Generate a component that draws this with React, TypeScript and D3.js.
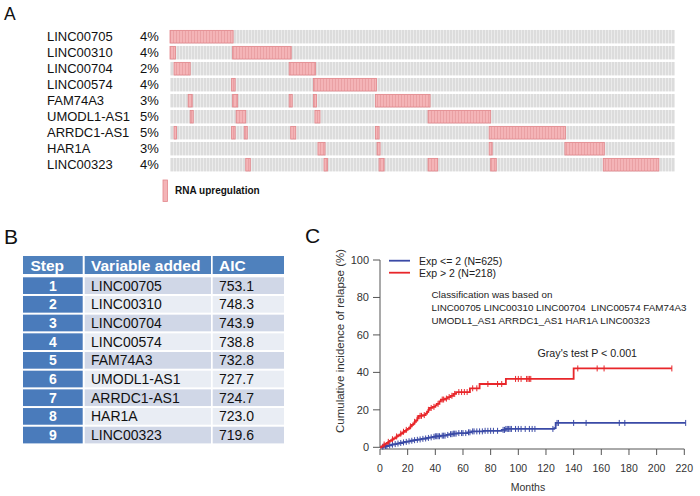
import React from "react";
import * as d3 from "d3";

// ---------- Panel A data ----------
const genes = ["LINC00705", "LINC00310", "LINC00704", "LINC00574", "FAM74A3", "UMODL1-AS1", "ARRDC1-AS1", "HAR1A", "LINC00323"];
const genePct = ["4%", "4%", "2%", "4%", "3%", "5%", "5%", "3%", "4%"];
const sampleCount = 1000;
const alt_LINC00705 = [[0, 125]];
const alt_LINC00310 = [[0, 11], [124, 240]];
const alt_LINC00704 = [[8, 40], [236, 288]];
const alt_LINC00574 = [[122, 129], [284, 409]];
const alt_FAM74A3 = [[36, 44], [124, 134], [236, 242], [284, 290], [407, 515]];
const alt_UMODL1 = [[40, 46], [131, 150], [287, 297], [511, 635]];
const alt_ARRDC1 = [[8, 13], [122, 129], [147, 153], [239, 249], [407, 414], [632, 783]];
const alt_HAR1A = [[293, 307], [410, 416], [632, 638], [782, 860]];
const alt_LINC00323 = [[150, 159], [305, 312], [414, 424], [511, 530], [635, 646], [858, 968]];
const alterations = [alt_LINC00705, alt_LINC00310, alt_LINC00704, alt_LINC00574, alt_FAM74A3, alt_UMODL1, alt_ARRDC1, alt_HAR1A, alt_LINC00323];

// ---------- Panel B data ----------
const steps = ["1", "2", "3", "4", "5", "6", "7", "8", "9"];
const variables = ["LINC00705", "LINC00310", "LINC00704", "LINC00574", "FAM74A3", "UMODL1-AS1", "ARRDC1-AS1", "HAR1A", "LINC00323"];
const aic = ["753.1", "748.3", "743.9", "738.8", "732.8", "727.7", "724.7", "723.0", "719.6"];
const tableHeaders = ["Step", "Variable added", "AIC"];

// ---------- Panel C data ----------
const xTicks = [0, 20, 40, 60, 80, 100, 120, 140, 160, 180, 200, 220];
const yTicks = [0, 20, 40, 60, 80, 100];
const redTimes = [0, 1, 2, 3, 4, 5, 6, 7, 8, 9, 10, 11, 12, 13, 14, 15, 16, 17, 18, 19, 20, 21, 22, 23, 24, 25, 26, 27, 28, 31, 33, 34, 35, 36, 38, 40, 41, 43, 44, 47, 49, 51, 53, 55, 65, 72, 91, 140];
const redValues = [0, 0.5, 1.0, 1.5, 2.0, 2.4, 2.9, 3.4, 3.8, 4.3, 4.8, 5.3, 5.8, 6.3, 6.8, 7.3, 7.8, 8.3, 8.8, 9.3, 9.8, 10.5, 11.2, 12.0, 12.8, 13.6, 14.4, 15.5, 16.8, 17.2, 18.0, 19.0, 20.0, 21.0, 21.6, 22.4, 23.2, 24.5, 25.5, 26.0, 26.8, 27.5, 28.5, 29.5, 31.5, 33.8, 36.5, 42.1];
const redEnd = 211;
const redCensor = [3, 6, 9, 12, 15, 17, 19, 22, 25, 27, 29, 30, 32, 35, 37, 39, 42, 45, 46, 48, 50, 52, 54, 57, 59, 61, 63, 67, 70, 78, 85, 88, 98, 100, 102, 106, 107, 108, 109, 143, 157, 162, 211];
const blueTimes = [0, 2, 4, 6, 8, 10, 12, 14, 16, 18, 20, 22, 24, 26, 28, 30, 32, 34, 36, 38, 40, 44, 48, 50, 53, 56, 63, 66, 75, 88, 91, 126, 127];
const blueValues = [0, 0.3, 0.7, 1.0, 1.4, 1.7, 2.0, 2.3, 2.6, 2.9, 3.2, 3.5, 3.8, 4.0, 4.2, 4.5, 4.7, 5.0, 5.3, 5.6, 5.9, 6.2, 6.6, 7.0, 7.3, 7.6, 8.0, 8.5, 8.8, 9.3, 9.8, 10.2, 13.0];
const blueEnd = 221;
const blueCensor = [2, 4, 5, 7, 9, 11, 13, 15, 17, 19, 21, 23, 25, 27, 29, 31, 33, 35, 37, 39, 40, 41, 42, 43, 45, 46, 47, 49, 51, 52, 53, 54, 55, 57, 59, 60, 62, 64, 65, 67, 68, 70, 72, 74, 76, 78, 80, 82, 85, 89, 90, 91, 92, 93, 94, 95, 98, 100, 102, 105, 108, 110, 112, 125, 128, 129, 140, 149, 173, 177, 221];
const legendLabels = ["Exp <= 2 (N=625)", "Exp > 2 (N=218)"];
const noteLines = ["Classification was based on", "LINC00705 LINC00310 LINC00704  LINC00574 FAM74A3", "UMODL1_AS1 ARRDC1_AS1 HAR1A LINC00323"];

const FONT = "'Liberation Sans', Arial, sans-serif";
const RED = "#e8262a";
const BLUE = "#3a4aa6";
const AX = "#555";

function valueAt(times: number[], values: number[], t: number) {
  let v = 0;
  for (let i = 0; i < times.length; i++) if (times[i] <= t) v = values[i];
  return v;
}

export default function App() {
  // Panel A scales
  const sx = d3.scaleLinear().domain([0, sampleCount]).range([170, 675]);
  const rowBand = d3.scaleBand<string>().domain(genes).range([28.7, 172.7]).paddingInner(0.16).paddingOuter(0.08);

  // Panel B scales
  const colX = [23, 84.7, 212.7];
  const colW = [59.7, 126.3, 71.3];
  const tRow = d3.scaleBand<string>().domain(steps).range([277.3, 443.4]).paddingInner(0.107);

  // Panel C scales
  const x = d3.scaleLinear().domain([0, 220]).range([380, 684.3]);
  const y = d3.scaleLinear().domain([0, 100]).range([447.3, 260]);
  const line = d3.line<[number, number]>().x(d => x(d[0])).y(d => y(d[1])).curve(d3.curveStepAfter);
  const redPts: [number, number][] = redTimes.map((t, i) => [t, redValues[i]] as [number, number]);
  redPts.push([redEnd, redValues[redValues.length - 1]]);
  const bluePts: [number, number][] = blueTimes.map((t, i) => [t, blueValues[i]] as [number, number]);
  bluePts.push([blueEnd, blueValues[blueValues.length - 1]]);

  return (
    <svg width={700} height={496} style={{ position: "absolute", left: 0, top: 0, background: "#fff" }} fontFamily={FONT}>
      <defs>
        <pattern id="grayStripe" patternUnits="userSpaceOnUse" width={3} height={10}>
          <rect width={3} height={10} fill="#dcdcdc" />
          <rect x={2} width={1} height={10} fill="#ebebeb" />
        </pattern>
        <pattern id="pinkStripe" patternUnits="userSpaceOnUse" width={3} height={10}>
          <rect width={3} height={10} fill="#f4b4b7" />
          <rect x={2} width={0.8} height={10} fill="#e89ca0" />
        </pattern>
      </defs>

      {/* Panel A */}
      <text x={4} y={20} fontSize={17.5} fill="#111">A</text>
      {genes.map((g, i) => {
        const top = rowBand(g)!;
        const h = rowBand.bandwidth();
        return (
          <g key={g}>
            <text x={47} y={top + h / 2 + 4.6} fontSize={13} fill="#111">{g}</text>
            <text x={140} y={top + h / 2 + 4.6} fontSize={13} fill="#111">{genePct[i]}</text>
            <rect x={sx(0)} y={top} width={sx(sampleCount) - sx(0)} height={h} fill="url(#grayStripe)" />
            {alterations[i].map((a, j) => (
              <rect key={j} x={sx(a[0])} y={top + 0.4} width={sx(a[1]) - sx(a[0])} height={h - 0.8}
                fill="url(#pinkStripe)" stroke="#e3878c" strokeWidth={0.8} />
            ))}
          </g>
        );
      })}
      <rect x={163} y={180} width={4.5} height={21.5} fill="#f4b4b7" stroke="#e3878c" strokeWidth={0.8} />
      <text x={175} y={194} fontSize={10} fontWeight="bold" fill="#111">RNA upregulation</text>

      {/* Panel B */}
      <text x={4} y={244} fontSize={21} fill="#111">B</text>
      {tableHeaders.map((h, c) => (
        <g key={h}>
          <rect x={colX[c]} y={256} width={colW[c]} height={18} fill="#4f81bd" />
          <text x={colX[c] + (c === 0 ? 7.5 : 6.3)} y={270.5} fontSize={15.5} fontWeight="bold" fill="#fff">{h}</text>
        </g>
      ))}
      {steps.map((s, i) => {
        const top = tRow(s)!;
        const h = tRow.bandwidth();
        const bg = i % 2 === 0 ? "#d0d7e7" : "#e9edf4";
        return (
          <g key={s}>
            <rect x={colX[0]} y={top} width={colW[0]} height={h} fill="#4a7bbb" />
            <rect x={colX[1]} y={top} width={colW[1]} height={h} fill={bg} />
            <rect x={colX[2]} y={top} width={colW[2]} height={h} fill={bg} />
            <text x={colX[0] + colW[0] / 2} y={top + h / 2 + 5} fontSize={14} fontWeight="bold" fill="#fff" textAnchor="middle">{s}</text>
            <text x={91} y={top + h / 2 + 5} fontSize={14} fill="#111">{variables[i]}</text>
            <text x={219} y={top + h / 2 + 5} fontSize={14} fill="#111">{aic[i]}</text>
          </g>
        );
      })}

      {/* Panel C */}
      <text x={305} y={243} fontSize={21} fill="#111">C</text>
      <line x1={380} x2={380} y1={y(0)} y2={y(100)} stroke={AX} strokeWidth={1} />
      {yTicks.map(t => (
        <g key={t}>
          <line x1={373} x2={380} y1={y(t)} y2={y(t)} stroke={AX} />
          <text x={369} y={y(t) + 4} fontSize={11} textAnchor="end" fill="#333">{t}</text>
        </g>
      ))}
      <line x1={x(0)} x2={x(220)} y1={449} y2={449} stroke={AX} strokeWidth={1} />
      {xTicks.map(t => (
        <g key={t}>
          <line x1={x(t)} x2={x(t)} y1={449} y2={455} stroke={AX} />
          <text x={x(t)} y={471.5} fontSize={10.5} textAnchor="middle" fill="#333">{t}</text>
        </g>
      ))}
      <text x={528} y={490.5} fontSize={10.5} textAnchor="middle" fill="#333">Months</text>
      <text transform="translate(344,341) rotate(-90)" fontSize={11.5} textAnchor="middle" fill="#333">Cumulative incidence of relapse (%)</text>

      <path d={line(bluePts)!} fill="none" stroke={BLUE} strokeWidth={1.8} />
      {blueCensor.map((t, i) => (
        <line key={"b" + i} x1={x(t)} x2={x(t)} y1={y(valueAt(blueTimes, blueValues, t)) - 3} y2={y(valueAt(blueTimes, blueValues, t)) + 3} stroke={BLUE} strokeWidth={1} />
      ))}
      <path d={line(redPts)!} fill="none" stroke={RED} strokeWidth={1.8} />
      {redCensor.map((t, i) => (
        <line key={"r" + i} x1={x(t)} x2={x(t)} y1={y(valueAt(redTimes, redValues, t)) - 3} y2={y(valueAt(redTimes, redValues, t)) + 3} stroke={RED} strokeWidth={1} />
      ))}

      {/* legend */}
      <line x1={389} x2={410} y1={260.7} y2={260.7} stroke={BLUE} strokeWidth={1.8} />
      <line x1={389} x2={410} y1={272.7} y2={272.7} stroke={RED} strokeWidth={1.8} />
      <text x={419} y={264.5} fontSize={10.5} fill="#222">{legendLabels[0]}</text>
      <text x={419} y={276.5} fontSize={10.5} fill="#222">{legendLabels[1]}</text>
      {noteLines.map((l, i) => (
        <text key={i} x={431.5} y={297.5 + i * 13} fontSize={9.8} fill="#222" style={{ whiteSpace: "pre" }}>{l}</text>
      ))}
      <text x={537.5} y={357} fontSize={10.7} fill="#222">Gray's test P &lt; 0.001</text>
    </svg>
  );
}
